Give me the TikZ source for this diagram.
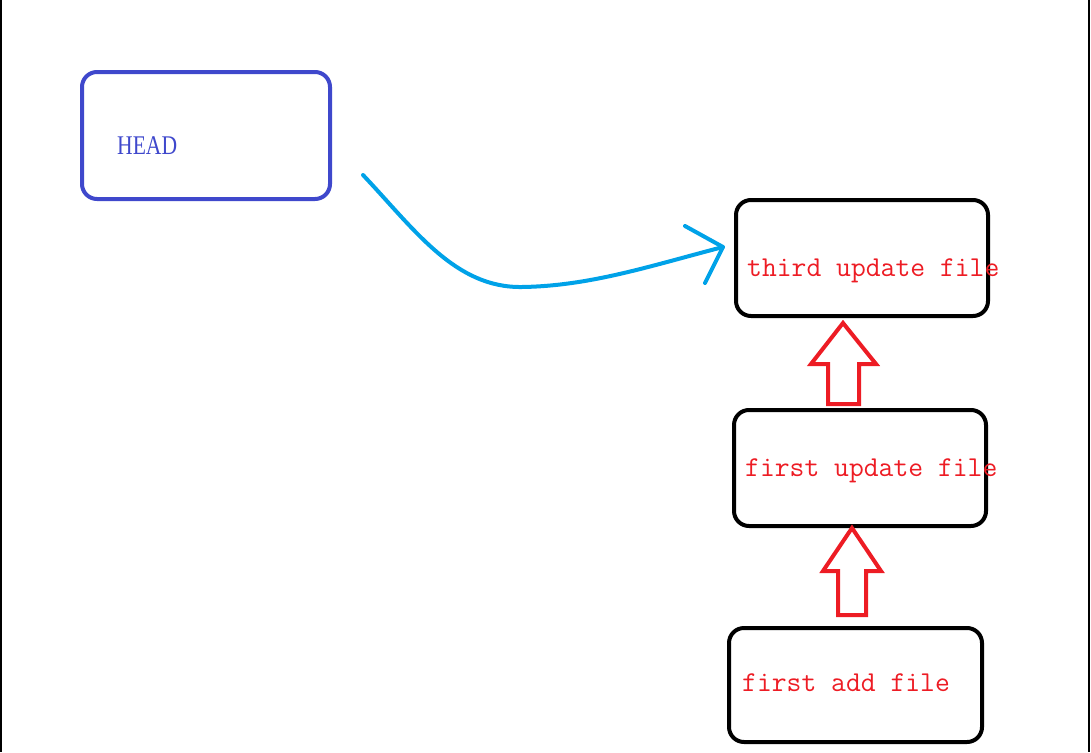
\documentclass[tikz,border=0pt]{standalone}
\usepackage{fontspec}
\newfontfamily\headfont{Liberation Serif}
\definecolor{headblue}{HTML}{3F48CC}
\definecolor{curveblue}{HTML}{00A2E8}
\definecolor{paintred}{HTML}{ED1C24}
\begin{document}
\begin{tikzpicture}[x=1pt,y=-1pt,
  framebox/.style={draw=black, line width=4pt, rounded corners=15pt, inner sep=0pt},
  headbox/.style={framebox, draw=headblue},
  redtext/.style={anchor=base west, inner sep=0pt, text=paintred, font=\fontsize{28.8}{30}\selectfont\ttfamily},
  headtext/.style={anchor=base west, inner sep=0pt, text=headblue, font=\fontsize{27}{30}\selectfont\headfont},
  blockarrow/.style={draw=paintred, line width=4pt, line join=miter},
  curvearrow/.style={draw=curveblue, line width=4pt, line cap=round, line join=round}]
\useasboundingbox (0,0) rectangle (1091,752);
% outer side lines
\draw[line width=1.5pt] (0.75,0) -- (0.75,752);
\draw[line width=2.5pt] (1089,0) -- (1089,752);
% HEAD
\node[headbox, minimum width=248pt, minimum height=127pt] (head) at (206,135.5) {};
\node[headtext] (headlbl) at (117,154) {\scalebox{0.8}[1]{HEAD}};
% commit boxes
\node[framebox, minimum width=252pt, minimum height=116pt] (third) at (862,258) {};
\node[redtext] (thirdlbl) at (747,276) {third update file};
\node[framebox, minimum width=252pt, minimum height=116pt] (update) at (860,468) {};
\node[redtext] (updatelbl) at (745,476) {first update file};
\node[framebox, minimum width=253pt, minimum height=114pt] (add) at (855.5,685) {};
\node[redtext] (addlbl) at (742,691) {first add file};
% red block arrows
\coordinate (tipA) at (843,323);
\coordinate (tipB) at (852,528);
\draw[blockarrow] (tipA) -- ++(-32,41) -- ++(17,0) -- ++(0,40) -- ++(31,0) -- ++(0,-40) -- ++(17,0) -- cycle;
\draw[blockarrow] (tipB) -- ++(-29,43) -- ++(15,0) -- ++(0,44) -- ++(28,0) -- ++(0,-44) -- ++(15,0) -- cycle;
% blue curved arrow from HEAD
\coordinate (cs) at (363,175);
\coordinate (ce) at (723,247);
\draw[curvearrow] (cs) .. controls (415,230) and (455,288) .. (522,287) .. controls (590,286) and (650,266) .. (ce);
\draw[curvearrow] (685,226) -- (ce) -- (705,283);
\end{tikzpicture}
\end{document}
